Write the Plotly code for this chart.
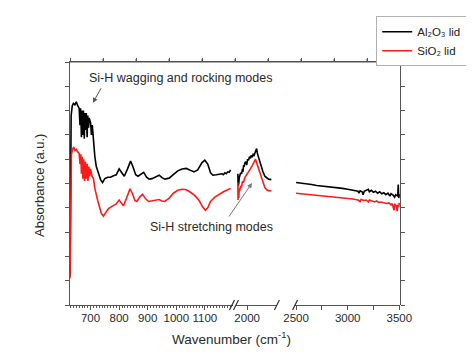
import plotly.graph_objects as go

# ---------------- data ----------------
# segment 1 : 628 - 1195 cm-1
seg1_x_al = [628, 630, 632, 636, 640, 645, 650, 655, 660, 663, 665, 668, 670, 672, 675, 678, 680, 683,
             685, 688, 690, 693, 695, 700, 703, 706, 710, 715, 720, 725, 730, 735, 742, 750, 760, 770, 780,
             790, 800, 808, 818, 828, 840, 848, 858, 866, 876, 886, 896, 905, 915, 928, 940, 950, 960,
             975, 990, 1005, 1020, 1035, 1050, 1062, 1075, 1090, 1100, 1110, 1120, 1128, 1140, 1150,
             1160, 1165, 1170, 1175, 1180, 1185, 1190]
seg1_al = [0.6, 2.5, 3.9, 4.1, 4.15, 4.12, 4.18, 4.1, 4.05, 3.7, 4.05, 3.45, 4.0, 3.5, 4.0, 3.42, 3.95, 3.6,
           3.95, 3.45, 3.9, 3.65, 3.85, 3.75, 3.5, 3.7, 3.4, 3.05, 2.85, 2.75, 2.7, 2.58, 2.52, 2.6, 2.63,
           2.63, 2.66, 2.68, 2.8, 2.72, 2.65, 2.78, 2.96, 2.85, 2.68, 2.65, 2.7, 2.73, 2.63, 2.59, 2.6,
           2.64, 2.67, 2.62, 2.59, 2.61, 2.68, 2.76, 2.8, 2.81, 2.77, 2.74, 2.78, 2.93, 2.98, 2.9, 2.72,
           2.67, 2.68, 2.69, 2.7, 2.68, 2.72, 2.7, 2.74, 2.73, 2.78]

seg1_x_si = [628, 630, 633, 637, 641, 645, 650, 655, 660, 663, 666, 668, 671, 673, 676, 679, 682, 685,
             688, 691, 694, 697, 700, 705, 710, 715, 720, 725, 732, 738, 745, 752, 762, 775, 788, 800,
             808, 815, 826, 838, 846, 855, 862, 872, 882, 892, 903, 915, 928, 940, 950, 960, 975, 990,
             1005, 1020, 1035, 1050, 1065, 1080, 1092, 1102, 1110, 1120, 1135, 1150, 1165, 1180, 1190]
seg1_si = [0.55, 1.8, 3.1, 3.2, 3.25, 3.18, 3.2, 3.15, 3.12, 2.9, 3.1, 2.7, 3.05, 2.6, 3.0, 2.55, 2.95, 2.6,
           2.9, 2.55, 2.85, 2.65, 2.8, 2.65, 2.6, 2.4, 2.3, 2.15, 2.0, 1.88, 1.83, 1.9, 1.98, 2.03, 2.07,
           2.16, 2.1, 2.04, 2.2, 2.39, 2.3, 2.15, 2.13, 2.22, 2.28, 2.19, 2.13, 2.14, 2.16, 2.17, 2.14,
           2.13, 2.2, 2.3, 2.36, 2.38, 2.37, 2.32, 2.25, 2.15, 2.02, 1.95, 2.0, 2.13, 2.22, 2.28, 2.33,
           2.37, 2.40]

# segment 2 : Si-H stretching region
seg2_x_al = [1900, 1903, 1906, 1910, 1915, 1920, 1930, 1940, 1950, 1955, 1962, 1968, 1975, 1985, 1995,
             2005, 2015, 2025, 2035, 2045, 2055, 2065, 2075, 2085, 2095, 2102, 2110, 2130, 2150, 2170,
             2190, 2210, 2230, 2260]
seg2_al = [2.7, 2.45, 2.68, 2.5, 2.62, 2.66, 2.72, 2.7, 2.8, 2.74, 2.88, 2.84, 2.92, 2.95, 2.88,
           3.0, 2.98, 3.05, 3.02, 3.08, 3.04, 3.1, 3.08, 3.14, 3.18, 3.22, 3.12, 2.98, 2.86, 2.74,
           2.65, 2.61, 2.59, 2.58]

seg2_x_si = [1900, 1902, 1905, 1910, 1915, 1920, 1930, 1940, 1950, 1960, 1975, 1990, 2005, 2020, 2035,
             2050, 2065, 2080, 2090, 2095, 2110, 2130, 2150, 2170, 2190, 2210, 2230, 2260]
seg2_si = [2.52, 2.16, 2.3, 2.2, 2.4, 2.35, 2.45, 2.42, 2.55, 2.52, 2.62, 2.66, 2.7, 2.76, 2.8,
           2.85, 2.9, 2.95, 3.0, 2.97, 2.88, 2.75, 2.62, 2.5, 2.42, 2.37, 2.35, 2.35]

# segment 3 : 2500 - 3500 cm-1
seg3_x_al = [2500, 2550, 2600, 2650, 2700, 2750, 2800, 2850, 2900, 2950, 3000, 3030, 3060, 3080, 3100,
             3110, 3120, 3140, 3150, 3160, 3180, 3200, 3210, 3230, 3250, 3270, 3290, 3310, 3330, 3350,
             3370, 3390, 3410, 3420, 3440, 3455, 3465, 3475, 3485, 3490, 3495, 3500]
seg3_al = [2.52, 2.51, 2.49, 2.48, 2.46, 2.45, 2.44, 2.43, 2.41, 2.40, 2.38, 2.37, 2.36, 2.35, 2.34,
           2.30, 2.35, 2.33, 2.27, 2.34, 2.36, 2.38, 2.33, 2.36, 2.32, 2.34, 2.30, 2.33, 2.29, 2.31,
           2.27, 2.30, 2.24, 2.29, 2.26, 2.22, 2.27, 2.25, 2.24, 2.48, 2.20, 2.28]

seg3_x_si = [2500, 2600, 2700, 2800, 2900, 3000, 3050, 3100, 3120, 3130, 3160, 3180, 3200, 3210, 3240,
             3260, 3280, 3300, 3320, 3350, 3380, 3400, 3420, 3430, 3450, 3455, 3470, 3480, 3485, 3495,
             3500]
seg3_si = [2.30, 2.28, 2.26, 2.24, 2.22, 2.19, 2.18, 2.16, 2.13, 2.17, 2.15, 2.16, 2.12, 2.16, 2.13,
           2.12, 2.14, 2.11, 2.12, 2.10, 2.09, 2.10, 2.06, 2.09, 1.95, 2.08, 2.04, 1.93, 2.06, 2.02,
           2.10]

series_names = ["Al₂O₃ lid", "SiO₂ lid"]
series_colors = ["#000000", "#ff1a1a"]

seg1_ticks = [700, 800, 900, 1000, 1100]
seg2_ticks = [2000]
seg3_ticks = [2500, 3000, 3500]
top_ticks = [0, 1, 2, 3, 4, 5, 6, 7, 8, 9, 10]

x_title = "Wavenumber (cm<sup>-1</sup>)"
y_title = "Absorbance (a.u.)"
annot_wag = "Si-H wagging and rocking modes"
annot_str = "Si-H stretching modes"

# ---------------- figure ----------------
FONT = "Liberation Sans, Arial, sans-serif"
AX = "#555555"
TXT = "#2a2a2a"
fig = go.Figure()

segments = [("x", seg1_x_al, seg1_al, seg1_x_si, seg1_si),
            ("x2", seg2_x_al, seg2_al, seg2_x_si, seg2_si),
            ("x3", seg3_x_al, seg3_al, seg3_x_si, seg3_si)]
for i, (xa, xal, yal, xsi, ysi) in enumerate(segments):
    fig.add_trace(go.Scatter(x=xal, y=yal, xaxis=xa, yaxis="y", mode="lines",
                             line=dict(color=series_colors[0], width=1.6),
                             name=series_names[0], legendgroup="al", showlegend=(i == 0)))
    fig.add_trace(go.Scatter(x=xsi, y=ysi, xaxis=xa, yaxis="y", mode="lines",
                             line=dict(color=series_colors[1], width=1.6),
                             name=series_names[1], legendgroup="si", showlegend=(i == 0)))

# hidden trace (outside the y range) so the frame subplot with the top axis exists
fig.add_trace(go.Scatter(x=[5], y=[-10], xaxis="x4", yaxis="y", mode="markers",
                         marker=dict(size=1, color="white"), showlegend=False,
                         hoverinfo="skip", cliponaxis=True))

tickfont = dict(family=FONT, size=11.5, color=TXT)
common_x = dict(anchor="y", showline=True, linecolor=AX, linewidth=1.2, ticks="outside",
                ticklen=4, tickcolor=AX, showgrid=False, zeroline=False, tickfont=tickfont,
                ticklabelstandoff=-2)

# the page body adds an 8 px offset, so margins are shifted by 8 px
fig.update_layout(
    width=474, height=359,
    margin=dict(l=62, r=82, t=54, b=62, autoexpand=False),
    paper_bgcolor="white", plot_bgcolor="rgba(0,0,0,0)",
    font=dict(family=FONT, size=12, color=TXT),
    xaxis=dict(domain=[0, 0.4909], range=[628, 1195], tickvals=seg1_ticks,
               minor=dict(dtick=10, tick0=0, ticks="outside", ticklen=2, tickcolor=AX),
               **common_x),
    xaxis2=dict(domain=[0.503, 0.627], range=[1880, 2320], tickvals=seg2_ticks, **common_x),
    xaxis3=dict(domain=[0.682, 1.0], range=[2490, 3507], tickvals=seg3_ticks,
                minor=dict(tickvals=[2750, 3250], ticks="outside", ticklen=4, tickcolor=AX),
                **common_x),
    xaxis4=dict(domain=[0, 1], range=[0, 10], side="top", anchor="y", tickvals=top_ticks,
                showline=True, linecolor=AX, linewidth=1.2, ticks="outside", ticklen=3,
                tickcolor=AX, showticklabels=False, showgrid=False, zeroline=False),
    yaxis=dict(domain=[0, 1], range=[0, 5], anchor="x4", dtick=0.5, showticklabels=False,
               showline=True, linecolor=AX, linewidth=1.2, ticks="outside", ticklen=4,
               tickcolor=AX, mirror="ticks", showgrid=False, zeroline=False),
    showlegend=True,
    legend=dict(x=0.928, y=1.188, xanchor="left", yanchor="top", bgcolor="white",
                bordercolor="#b0b0b0", borderwidth=1, itemwidth=30,
                font=dict(family=FONT, size=11.5, color="#222222"), tracegroupgap=0),
)

# top frame line and its ticks (frame decoration of the plot box)
fig.add_shape(type="line", xref="paper", yref="paper", x0=0, x1=1, y0=1, y1=1,
              line=dict(color=AX, width=1.2))
for t in top_ticks:
    fig.add_shape(type="line", xref="x4", yref="paper", x0=t, x1=t, ysizemode="pixel",
                  yanchor=1, y0=0, y1=3, line=dict(color=AX, width=1))

# axis titles
fig.add_annotation(text=x_title, xref="paper", yref="paper", x=0.49, y=0, yshift=-33,
                   xanchor="center", yanchor="middle", showarrow=False,
                   font=dict(family=FONT, size=13.5, color=TXT))
fig.add_annotation(text=y_title, xref="paper", yref="paper", x=0, xshift=-30, y=0.49,
                   xanchor="center", yanchor="middle", textangle=-90, showarrow=False,
                   font=dict(family=FONT, size=13, color=TXT))

# mode annotations
fig.add_annotation(text=annot_wag, xref="paper", yref="paper", x=0.334, y=0.935,
                   xanchor="center", yanchor="middle", showarrow=False,
                   font=dict(family=FONT, size=12.5, color=TXT))
fig.add_annotation(text="", xref="x", yref="y", x=708, y=4.16, ax=9, ay=-16,
                   showarrow=True, arrowhead=2, arrowsize=1, arrowwidth=1, arrowcolor="#555555")
fig.add_annotation(text=annot_str, xref="paper", yref="paper", x=0.43, y=0.32,
                   xanchor="center", yanchor="middle", showarrow=False,
                   font=dict(family=FONT, size=12.5, color=TXT))
fig.add_annotation(text="", xref="x2", yref="y", x=2052, y=2.51, ax=-24, ay=35,
                   showarrow=True, arrowhead=2, arrowsize=1, arrowwidth=1, arrowcolor="#777777")

# axis break marks
def brk(xref, xpos):
    fig.add_shape(type="line", xref=xref, yref="y domain", xsizemode="pixel", ysizemode="pixel",
                  xanchor=xpos, yanchor=0, x0=-2.5, x1=2.5, y0=-5, y1=5,
                  line=dict(color="#333333", width=1.2))

brk("x domain", 1)
brk("x2 domain", 0)
brk("x2 domain", 1)
brk("x3 domain", 0)

fig.write_html("out.html")
